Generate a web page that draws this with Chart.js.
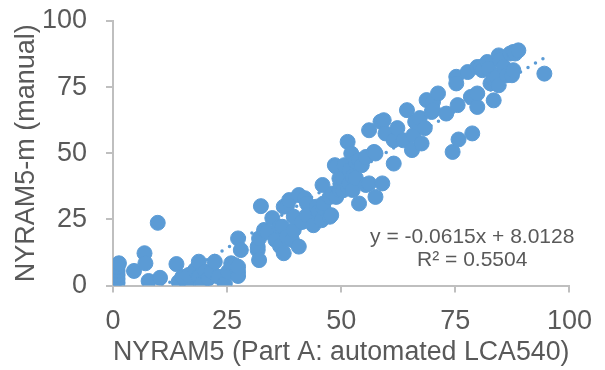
<!DOCTYPE html>
<html><head><meta charset="utf-8">
<script src="https://cdn.jsdelivr.net/npm/chart.js@4.4.1/dist/chart.umd.min.js"></script>
<style>html,body{margin:0;padding:0;background:#fff}#wrap{width:605px;height:370px}</style>
</head><body><div id="wrap"><canvas id="c" width="605" height="370"></canvas></div>
<script>
// ---- data ----
const pointX = [1.0,1.0,1.0,1.0,1.0,1.3,4.6,6.9,7.1,7.8,10.3,9.8,13.9,14.4,16.2,15.2,16.6,18.0,18.8,18.8,19.5,20.2,20.9,21.6,22.3,23.1,24.5,25.2,25.9,26.7,27.4,27.4,27.4,27.4,28.0,31.7,31.7,32.0,32.0,33.1,32.4,33.8,34.9,35.6,36.6,36.4,37.1,37.4,37.4,38.1,38.1,38.6,39.2,39.6,39.6,40.7,40.7,41.4,42.0,42.5,42.5,43.9,44.6,44.6,45.0,45.7,45.9,46.1,46.1,47.5,47.5,47.8,48.2,48.6,48.9,48.9,49.6,49.6,50.4,50.4,50.7,51.4,51.4,51.8,51.8,52.2,52.5,52.5,53.2,53.2,53.9,53.9,54.5,55.4,55.4,56.1,56.1,57.2,57.5,57.5,58.6,59.0,59.3,59.7,61.5,61.5,62.3,63.6,64.4,65.5,65.8,66.2,67.2,67.6,68.3,68.7,69.8,70.1,70.1,71.2,73.0,74.4,75.2,75.2,75.5,75.7,78.4,78.7,77.7,79.8,79.8,79.8,80.5,80.9,82.0,82.3,82.7,83.4,83.4,84.1,84.5,84.5,84.8,85.6,86.3,87.0,87.4,87.7,87.7,88.1,88.8,94.5];
const pointY = [1.0,2.5,4.0,5.5,7.0,8.4,5.5,12.2,8.4,1.7,2.9,23.7,8.1,1.4,0.8,3.3,4.0,5.9,9.0,3.3,0.8,5.2,2.7,5.2,9.0,3.3,0.8,5.2,8.4,7.7,5.2,3.6,7.1,17.8,13.4,13.4,14.7,9.6,17.8,21.0,30.0,20.2,25.5,17.2,14.9,22.2,22.2,29.8,12.2,30.0,18.4,32.3,17.2,21.0,26.0,34.2,14.7,24.0,33.0,31.0,26.6,22.8,28.5,29.8,27.9,24.7,38.0,29.2,31.0,26.0,33.5,26.6,34.8,45.5,44.9,33.5,40.5,36.1,36.0,40.5,45.5,54.3,37.3,38.6,43.6,49.9,36.1,41.1,46.8,40.6,31.0,47.4,45.5,48.6,38.0,58.7,38.6,50.5,49.9,33.5,61.9,38.6,62.5,57.5,54.9,46.1,59.5,54.9,66.3,51.2,56.8,61.9,63.3,53.7,59.5,70.1,65.6,69.4,66.3,72.6,65.0,50.5,78.9,76.4,68.2,55.2,71.3,57.5,80.7,67.5,72.6,82.6,82.6,81.4,84.5,82.0,76.4,70.0,78.2,78.9,87.0,75.7,85.2,82.6,79.5,87.7,79.5,81.4,88.3,87.7,88.9,80.1];
const trendX = [1, 94.5];
const trendY = [-10.6, 86.1];
const xTicks = [0, 25, 50, 75, 100];
const yTicks = [0, 25, 50, 75, 100];
const xTitle = 'NYRAM5 (Part A: automated LCA540)';
const yTitle = 'NYRAM5-m (manual)';
const eqLines = ['y = -0.0615x + 8.0128', 'R² = 0.5504'];
const eqPos = [[78.7, 18.3], [78.7, 9.6]];

// ---- chart ----
const FONT = '"Liberation Sans", Arial, sans-serif';
const GREY = '#595959';
const AXIS = '#BFBFBF';
const BLUE = '#5B9BD5';

const eqPlugin = {
  id: 'eq',
  afterDatasetsDraw(chart) {
    const ctx = chart.ctx, xs = chart.scales.x, ys = chart.scales.y;
    ctx.save();
    ctx.font = '21px ' + FONT;
    ctx.fillStyle = GREY;
    ctx.textAlign = 'center';
    ctx.textBaseline = 'middle';
    eqLines.forEach((t, i) => ctx.fillText(t, xs.getPixelForValue(eqPos[i][0]), ys.getPixelForValue(eqPos[i][1])));
    ctx.restore();
  }
};

const axisCommon = (ticksArr) => ({
  type: 'linear', min: 0, max: 100,
  afterBuildTicks: s => { s.ticks = ticksArr.map(v => ({value: v})); },
  grid: {display: true, drawOnChartArea: false, drawTicks: true, tickLength: 7, color: AXIS, lineWidth: 2},
  border: {display: true, color: AXIS, width: 2},
});

new Chart(document.getElementById('c'), {
  type: 'scatter',
  data: {
    datasets: [
      {data: pointX.map((x, i) => ({x, y: pointY[i]})), pointRadius: 7.5, pointBackgroundColor: BLUE, pointBorderColor: BLUE, pointBorderWidth: 1, showLine: false},
      {type: 'line', data: trendX.map((x, i) => ({x, y: trendY[i]})), pointRadius: 0, borderColor: BLUE, borderWidth: 3.5, borderDash: [0, 8.7], borderCapStyle: 'round', fill: false, tension: 0}
    ]
  },
  options: {
    responsive: false, animation: false, devicePixelRatio: 1,
    layout: {padding: {top: 21, right: 29, left: 0, bottom: 0}},
    plugins: {legend: {display: false}, tooltip: {enabled: false}},
    scales: {
      x: Object.assign(axisCommon(xTicks), {
        afterFit: s => { s.height = 84.5; },
        ticks: {font: {family: FONT, size: 27}, color: GREY, padding: 13, maxRotation: 0},
        title: {display: true, text: xTitle, font: {family: FONT, size: 27}, color: GREY, padding: {top: 0, bottom: 1}}
      }),
      y: Object.assign(axisCommon(yTicks), {
        afterFit: s => { s.width = 113; s.paddingTop = 0; s.paddingBottom = 0; },
        ticks: {font: {family: FONT, size: 27}, color: GREY, padding: 19},
        title: {display: true, text: yTitle, font: {family: FONT, size: 27}, color: GREY, padding: {top: 10, bottom: 0}}
      })
    }
  },
  plugins: [eqPlugin]
});
</script>
</body></html>
